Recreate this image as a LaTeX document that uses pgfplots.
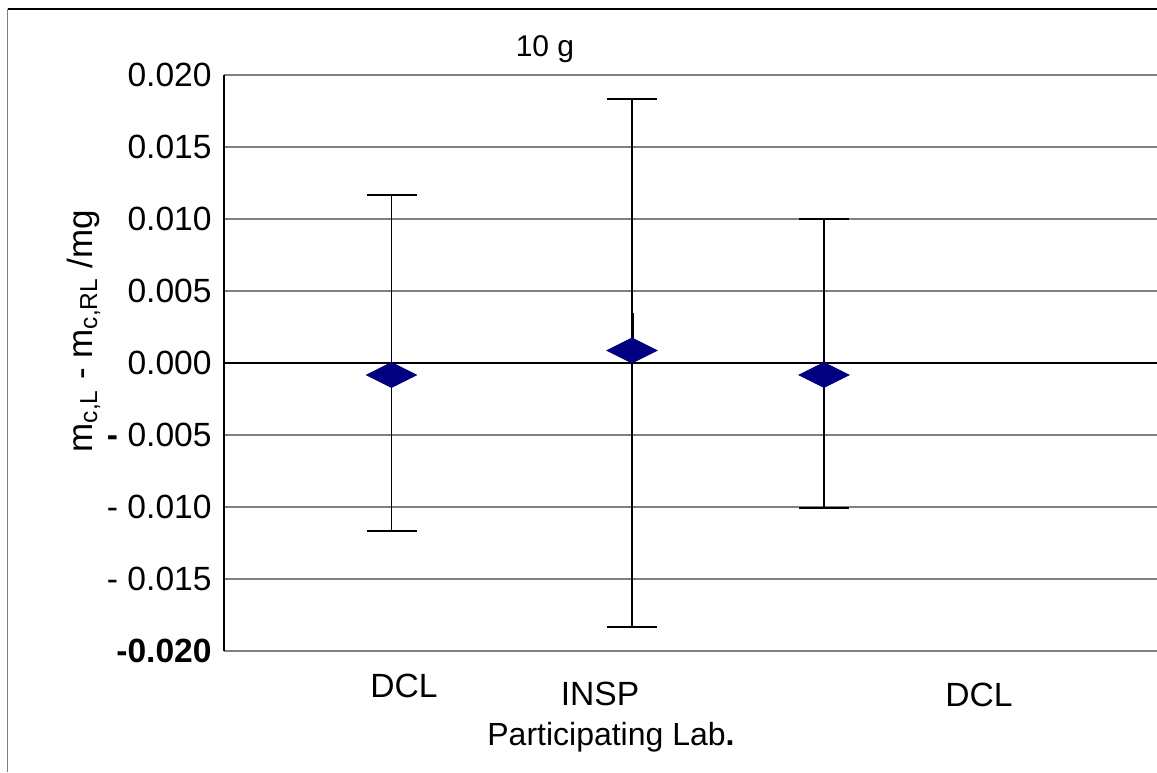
\documentclass[border=0pt]{standalone}
\usepackage{pgfplots}
\pgfplotsset{compat=1.18}
\usepackage{pgfplotstable}
\usepackage{fontspec}
\setmainfont{Liberation Sans}
\definecolor{navy}{RGB}{0,0,128}
\definecolor{gridgray}{RGB}{128,128,128}
\pgfplotstableread{
x y
391.5 -0.00083
632 0.00087
824 -0.00083
}\datatab
\begin{document}
\begin{tikzpicture}
\useasboundingbox (0,0) rectangle (578.5pt,386pt);
\draw[gridgray, line width=0.8pt] (3.8pt,381.5pt) -- (3.8pt,0pt);
\draw[black, line width=0.8pt] (3.8pt,381.5pt) -- (578.5pt,381.5pt);
\begin{axis}[
  at={(112pt,60.5pt)}, anchor=south west,
  scale only axis, width=466.5pt, height=288pt,
  xmin=224, xmax=1157, ymin=-0.02, ymax=0.02,
  scaled y ticks=false,
  axis y line*=left, axis x line*=bottom,
  x axis line style={draw=none},
  y axis line style={black, line width=0.8pt},
  tick style={draw=none},
  ytick={-0.02,-0.015,-0.01,-0.005,0,0.005,0.01,0.015,0.02},
  yticklabels={{\textbf{-0.020}},{- 0.015},{- 0.010},{\textbf{-} 0.005},{0.000},{0.005},{0.010},{0.015},{0.020}},
  yticklabel style={anchor=east, inner sep=0pt, xshift=-6pt, font=\fontsize{16.8pt}{18pt}\selectfont},
  xtick={404,600,979},
  xticklabels={DCL,{\raisebox{-4pt}{INSP}},{\raisebox{-5pt}{DCL}}},
  xticklabel style={anchor=base, inner sep=0pt, yshift=-23pt, font=\fontsize{16.8pt}{18pt}\selectfont},
  ymajorgrids, grid style={gridgray, line width=0.55pt},
  extra y ticks={0}, extra y tick labels={},
  extra y tick style={grid style={black, line width=0.7pt}},
  clip=false,
]
\addplot[only marks, mark=diamond*, mark size=6.25pt,
  mark options={xscale=2.667, fill=navy, draw=navy}]
  table[x=x, y=y] {\datatab};
% error bars (lower and upper limits)
\addplot[black, line width=0.9pt, mark=-, mark size=12.5pt, mark options={solid, line width=0.9pt}, forget plot]
  coordinates {(391.5,-0.01167) (391.5,0.01167)};
\addplot[black, line width=0.9pt, mark=-, mark size=12.5pt, mark options={solid, line width=0.9pt}, forget plot]
  coordinates {(632,-0.01833) (632,0.01833)};
\addplot[black, line width=0.9pt, mark=-, mark size=12.5pt, mark options={solid, line width=0.9pt}, forget plot]
  coordinates {(824,-0.01007) (824,0.0100)};
\addplot[black, line width=1.5pt, forget plot] coordinates {(632,0) (632,0.0035)};
\end{axis}
\node[anchor=base, font=\fontsize{15pt}{17pt}\selectfont] at (272.5pt,357.5pt) {10 g};
\node[anchor=base, font=\fontsize{16pt}{18pt}\selectfont] at (305.5pt,13.5pt) {Participating Lab\textbf{.}};
\node[anchor=base, rotate=90, font=\fontsize{17.5pt}{19pt}\selectfont] at (46pt,220.5pt) {m\textsubscript{c,L} - m\textsubscript{c,RL} /mg};
\end{tikzpicture}
\end{document}
